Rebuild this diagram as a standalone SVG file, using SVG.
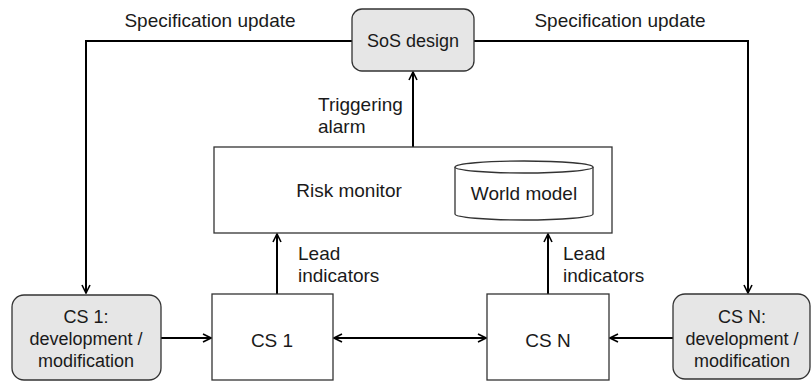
<svg xmlns="http://www.w3.org/2000/svg" width="812" height="383" viewBox="0 0 812 383">
<defs>
<marker id="arr" viewBox="0 0 10 10" refX="9" refY="5" markerWidth="10" markerHeight="10" markerUnits="userSpaceOnUse" orient="auto-start-reverse">
<path d="M1,1 L9,5 L1,9" fill="none" stroke="#000" stroke-width="1.6"/>
</marker>
<style>
text{font-family:"Liberation Sans",Arial,sans-serif;font-size:19px;fill:#1a1a1a;text-anchor:middle}
.st{text-anchor:start}
.sm{font-size:18px}
.box{fill:#fff;stroke:#333;stroke-width:1.3}
.grey{fill:#e6e6e6;stroke:#333;stroke-width:1.3}
.con{fill:none;stroke:#000;stroke-width:2}
</style>
</defs>
<g id="connectors">
<path class="con" d="M352,41 H86 V293" marker-end="url(#arr)"/>
<path class="con" d="M474,41 H748 V293" marker-end="url(#arr)"/>
<path class="con" d="M413,147 V72" marker-end="url(#arr)"/>
<path class="con" d="M277,294 V234" marker-end="url(#arr)"/>
<path class="con" d="M548,294 V234" marker-end="url(#arr)"/>
<path class="con" d="M161,338 H211" marker-end="url(#arr)"/>
<path class="con" d="M334,338 H486" marker-start="url(#arr)" marker-end="url(#arr)"/>
<path class="con" d="M673,338 H610" marker-end="url(#arr)"/>
<text x="210" y="27">Specification update</text>
<text x="620" y="27">Specification update</text>
<text class="st" x="318" y="111">Triggering</text>
<text class="st" x="318" y="133">alarm</text>
<text class="st" x="298" y="260">Lead</text>
<text class="st" x="298" y="282">indicators</text>
<text class="st" x="563" y="260">Lead</text>
<text class="st" x="563" y="282">indicators</text>
</g>
<g id="sos-design">
<rect class="grey" x="352" y="9" width="122" height="62" rx="10"/>
<text class="sm" x="413" y="47">SoS design</text>
</g>
<g id="risk-monitor">
<rect class="box" x="214" y="147" width="398" height="86"/>
<text x="349" y="197">Risk monitor</text>
</g>
<g id="world-model">
<path class="box" d="M455,167 V214 A69,6 0 0 0 593,214 V167"/>
<ellipse class="box" cx="524" cy="167" rx="69" ry="6"/>
<text x="524" y="200">World model</text>
</g>
<g id="cs1-dev">
<rect class="grey" x="12" y="295" width="149" height="85" rx="12"/>
<text class="sm" x="86" y="323">CS 1:</text>
<text class="sm" x="86" y="345">development /</text>
<text class="sm" x="86" y="367">modification</text>
</g>
<g id="cs1">
<rect class="box" x="212" y="294" width="121" height="86"/>
<text x="272" y="347">CS 1</text>
</g>
<g id="csn">
<rect class="box" x="487" y="294" width="122" height="86"/>
<text x="548" y="347">CS N</text>
</g>
<g id="csn-dev">
<rect class="grey" x="673" y="294" width="137" height="85" rx="12"/>
<text class="sm" x="742" y="323">CS N:</text>
<text class="sm" x="742" y="345">development /</text>
<text class="sm" x="742" y="367">modification</text>
</g>
</svg>
